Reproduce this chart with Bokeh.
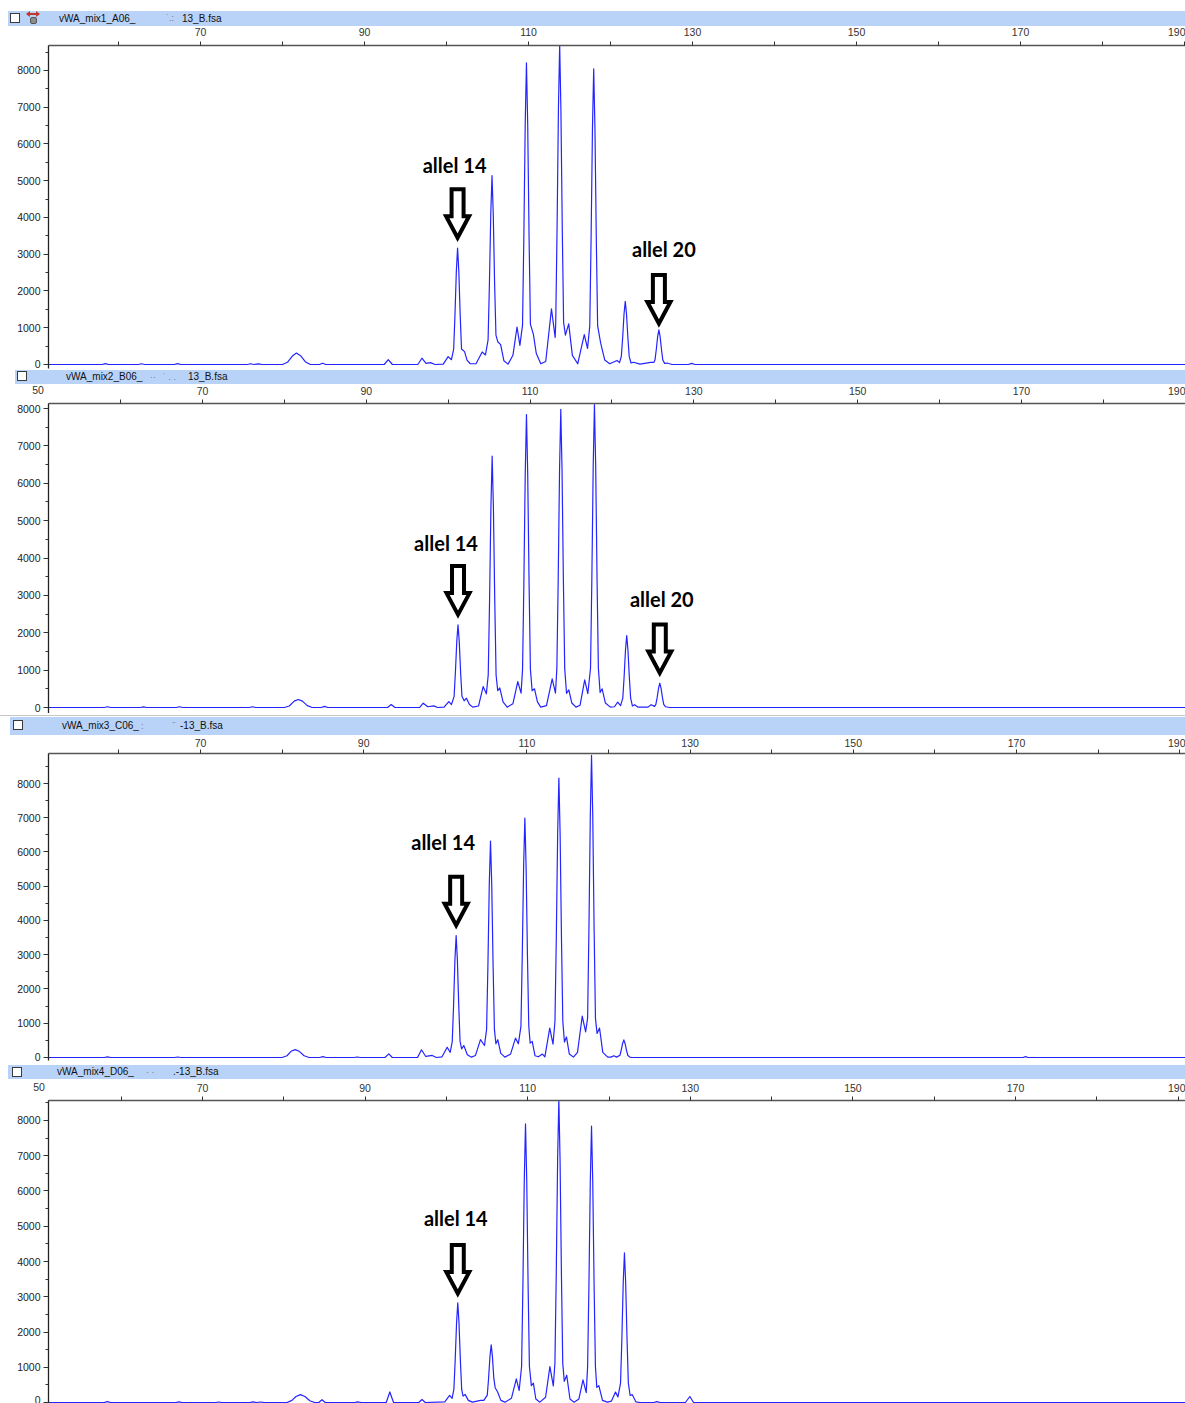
from bokeh.plotting import figure
from bokeh.layouts import column
from bokeh.models import Range1d, FixedTicker, Div
from bokeh.core.properties import value
from bokeh.embed import file_html
from bokeh.resources import INLINE

# ---------------- data (size in bp, signal in RFU) ----------------
trace1 = [(51.2,0),(58.0,0),(58.4,25),(58.8,0),(62.4,0),(62.8,20),(63.2,0),(66.8,0),(67.2,25),(67.6,0),
 (75.7,0),(76.1,20),(76.5,0),(77.1,15),(77.5,0),
 (80.0,0),(80.6,60),(81.2,230),(81.7,310),(82.2,240),(82.8,70),(83.4,0),
 (84.5,0),(84.9,35),(85.3,0),(92.4,0),(92.9,130),(93.4,0),
 (96.5,0),(97.0,170),(97.5,30),(98.05,50),(98.6,0),
 (99.6,10),(100.2,215),(100.6,130),(100.87,410),(101.03,1330),(101.2,2540),(101.35,3170),(101.5,2540),(101.67,1330),(101.83,420),(102.2,350),(102.5,120),(102.9,20),
 (103.6,20),(104.35,340),(104.75,260),(105.07,670),(105.23,2160),(105.4,4110),(105.55,5140),(105.7,4110),(105.87,2160),(106.03,800),(106.25,620),(106.6,540),(107.0,100),(107.5,10),
 (108.1,250),(108.6,1020),(108.95,520),(109.27,1070),(109.43,3450),(109.6,6570),(109.75,8210),(109.9,6570),(110.07,3450),(110.23,1100),(110.6,815),(110.95,300),(111.5,20),(112.1,80),
 (112.8,1515),(113.25,740),(113.32,1130),(113.48,3650),(113.65,6960),(113.8,8700),(113.95,6960),(114.12,3650),(114.28,1150),(114.5,800),(114.9,1105),(115.35,250),(116.0,20),
 (116.8,815),(117.2,435),(117.47,1050),(117.63,3380),(117.8,6440),(117.95,8045),(118.1,6440),(118.27,3380),(118.43,1050),(118.8,580),(119.3,120),(119.9,20),
 (120.8,110),(121.1,50),(121.32,220),(121.48,720),(121.65,1380),(121.8,1720),(121.95,1380),(122.12,720),(122.28,220),(122.5,40),(122.8,60),(123.6,10),
 (124.9,60),(125.3,60),(125.42,120),(125.58,400),(125.75,760),(125.9,945),(126.05,760),(126.22,400),(126.38,120),(126.6,30),(126.9,40),(127.5,0),
 (129.5,0),(129.9,30),(130.3,0),(190.2,0)]

trace2 = [(51.1,0),(58.0,0),(58.4,20),(58.8,0),(62.4,0),(62.8,15),(63.2,0),(66.8,0),(67.2,20),(67.6,0),
 (75.7,0),(76.1,20),(76.5,0),
 (80.0,0),(80.6,40),(81.2,170),(81.7,215),(82.2,170),(82.8,50),(83.4,0),
 (84.5,0),(84.9,30),(85.3,0),(92.6,0),(93.04,80),(93.5,0),
 (96.5,0),(96.95,115),(97.5,20),(98.24,45),(98.7,0),
 (99.5,10),(100.07,160),(100.4,80),(100.72,290),(100.88,930),(101.05,1770),(101.2,2210),(101.35,1770),(101.52,930),(101.68,300),(101.95,180),(102.23,250),(102.6,80),(103.0,10),
 (103.7,40),(104.27,560),(104.66,365),(104.89,870),(105.05,2820),(105.22,5380),(105.37,6725),(105.52,5380),(105.69,2820),(105.85,870),(106.05,450),(106.3,525),(106.7,150),(107.2,10),
 (107.9,100),(108.5,695),(108.9,385),(109.08,1020),(109.24,3290),(109.41,6270),(109.56,7840),(109.71,6270),(109.88,3290),(110.04,1020),(110.25,450),(110.54,500),(110.9,150),(111.3,10),
 (112.0,50),(112.7,765),(113.1,385),(113.27,1040),(113.43,3350),(113.6,6380),(113.75,7975),(113.9,6380),(114.07,3350),(114.23,1040),(114.45,380),(114.73,470),(115.1,120),(115.6,10),
 (116.1,60),(116.67,740),(117.05,370),(117.38,1050),(117.54,3400),(117.71,6480),(117.86,8105),(118.01,6480),(118.18,3400),(118.34,1050),(118.55,400),(118.8,500),(119.2,120),(119.8,10),
 (120.3,20),(120.7,145),(121.05,50),(121.32,250),(121.48,810),(121.65,1540),(121.8,1925),(121.95,1540),(122.12,810),(122.28,250),(122.5,40),(122.75,75),(123.2,10),
 (124.4,10),(124.78,75),(125.2,30),(125.36,85),(125.52,270),(125.69,520),(125.84,650),(125.99,520),(126.16,270),(126.32,85),(126.55,20),(127.05,0),
 (190.1,0)]

trace3 = [(51.3,0),(58.2,0),(58.6,20),(59.0,0),(66.8,0),(67.2,15),(67.6,0),
 (80.0,0),(80.6,50),(81.1,180),(81.6,230),(82.1,180),(82.7,50),(83.3,0),
 (84.6,0),(85.0,25),(85.4,0),(88.8,0),(89.2,15),(89.6,0),
 (92.6,0),(93.08,105),(93.5,0),
 (96.6,0),(97.08,225),(97.6,30),(98.4,60),(98.9,0),
 (99.6,20),(100.23,300),(100.6,150),(100.85,460),(101.01,1500),(101.18,2850),(101.33,3560),(101.48,2850),(101.65,1500),(101.81,470),(102.0,250),(102.27,350),(102.7,80),(103.2,10),
 (103.7,60),(104.31,520),(104.8,350),(105.06,820),(105.22,2650),(105.39,5060),(105.54,6320),(105.69,5060),(105.86,2650),(106.02,820),(106.2,400),(106.43,520),(106.8,120),(107.3,10),
 (108.0,100),(108.6,565),(108.95,400),(109.27,910),(109.43,2940),(109.6,5590),(109.75,6990),(109.9,5590),(110.07,2940),(110.23,910),(110.4,420),(110.65,470),(111.0,50),(111.4,20),(111.9,100),(112.2,20),
 (112.8,860),(113.2,390),(113.44,1060),(113.6,3430),(113.77,6530),(113.92,8160),(114.07,6530),(114.24,3430),(114.4,1060),(114.6,450),(114.85,600),(115.2,100),(115.7,10),
 (116.2,150),(116.78,1205),(117.2,750),(117.44,1150),(117.6,3700),(117.77,7060),(117.92,8820),(118.07,7060),(118.24,3700),(118.4,1150),(118.6,700),(118.9,860),(119.3,150),(119.9,10),
 (120.3,10),(120.65,50),(121.0,10),(121.4,65),(121.56,215),(121.73,410),(121.88,515),(122.03,410),(122.2,215),(122.36,65),(122.6,10),(122.9,0),
 (170.8,0),(171.1,25),(171.4,0),(190.8,0)]

trace4 = [(50.4,0),(57.9,0),(58.3,25),(58.7,0),(66.7,0),(67.1,20),(67.5,0),(71.6,0),(72.0,15),(72.4,0),
 (75.8,0),(76.2,20),(76.6,0),(77.2,15),(77.6,0),
 (80.4,0),(81.0,60),(81.5,170),(82.05,225),(82.6,170),(83.2,50),(83.8,0),
 (84.3,0),(84.7,80),(85.1,0),(88.7,0),(89.1,20),(89.5,0),
 (92.6,0),(93.04,300),(93.5,0),
 (96.6,0),(97.0,85),(97.4,0),
 (99.8,20),(100.4,200),(100.7,120),(100.92,370),(101.08,1190),(101.25,2260),(101.4,2830),(101.55,2260),(101.72,1190),(101.88,370),(102.05,180),(102.3,230),(102.7,60),(103.2,10),
 (104.2,60),(104.6,60),(105.03,210),(105.19,690),(105.36,1310),(105.51,1635),(105.66,1310),(105.83,690),(106.0,420),(106.3,300),(106.7,60),(107.2,10),
 (108.0,120),(108.6,670),(108.95,340),(109.25,1030),(109.41,3320),(109.58,6320),(109.73,7905),(109.88,6320),(110.05,3320),(110.21,1030),(110.45,480),(110.7,550),(111.0,100),(111.5,10),
 (112.2,150),(112.73,1020),(113.15,470),(113.35,1120),(113.51,3610),(113.68,6880),(113.83,8600),(113.98,6880),(114.15,3610),(114.31,1120),(114.5,600),(114.8,775),(115.2,100),(115.7,10),
 (116.3,100),(116.8,640),(117.2,280),(117.37,1020),(117.53,3290),(117.7,6270),(117.85,7840),(118.0,6270),(118.17,3290),(118.33,1020),(118.5,430),(118.75,480),(119.2,60),(119.8,10),
 (120.3,40),(120.8,295),(121.1,160),(121.42,550),(121.58,1780),(121.75,3400),(121.9,4245),(122.05,3400),(122.22,1780),(122.38,550),(122.6,200),(122.85,225),(123.3,20),(123.8,0),
 (125.5,0),(125.9,25),(126.3,0),
 (129.4,0),(129.94,170),(130.4,0),
 (190.9,0)]

# annotated allele peaks: (size bp, peak RFU, label)
alleles1 = [(101.35, 3170, "allel 14"), (125.9, 945, "allel 20")]
alleles2 = [(101.2, 2210, "allel 14"), (125.84, 650, "allel 20")]
alleles3 = [(101.33, 3560, "allel 14")]
alleles4 = [(101.4, 2830, "allel 14")]

sample_names = ["vWA_mix1_A06_", "vWA_mix2_B06_", "vWA_mix3_C06_", "vWA_mix4_D06_"]
file_suffix = ["13_B.fsa", "13_B.fsa", "-13_B.fsa", ".-13_B.fsa"]

x_ticks = [50, 70, 90, 110, 130, 150, 170, 190]
x_minor = [60, 80, 100, 120, 140, 160, 180]
y_ticks = [0, 1000, 2000, 3000, 4000, 5000, 6000, 7000, 8000]
y_minor = [500, 1500, 2500, 3500, 4500, 5500, 6500, 7500, 8500]

# ---------------- layout / style ----------------
W = 1185
LEFT = 48
TOP = 24
LABEL_FONT = "Liberation Sans"
TRACE_COLOR = "#2424FF"
BAR_COLOR = "#B9D3F8"

panels = [
    dict(trace=trace1, alleles=alleles1, x0=51.463, x1=190.12, y0=-109, y1=8680, frame_h=323, bottom=2,
         overlap=5, standoff=6, gaps=[6, 2], tdx=[-3, 5], tdy=[83, 81]),
    dict(trace=trace2, alleles=alleles2, x0=51.197, x1=190.03, y0=-160, y1=8134, frame_h=310, bottom=0,
         overlap=5, standoff=5, gaps=[6, 6], tdx=[-12, 2], tdy=[82, 84]),
    dict(trace=trace3, alleles=alleles3, x0=51.373, x1=190.71, y0=-88, y1=8876, frame_h=307, bottom=3,
         overlap=6, standoff=3, gaps=[6], tdx=[-13], tdy=[94]),
    dict(trace=trace4, alleles=alleles4, x0=51.058, x1=190.91, y0=-28, y1=8567, frame_h=303, bottom=0,
         overlap=3, standoff=5, gaps=[5], tdx=[-2], tdy=[85]),
]

headers = [
    dict(h=26, bar_x0=8, bar_top=11, cb=(10, 13), name_x=59, marks=[(166, "\u02d9.:")], suffix_x=182,
         icon=True, gray=None, fifty=None),
    dict(h=14, bar_x0=15, bar_top=0, cb=(17, 1), name_x=66, marks=[(150, "\u00b7\u00b7"), (163, "\u02d9 . .")],
         suffix_x=188, icon=False, gray=None, fifty=(38, 20)),
    dict(h=22, bar_x0=10, bar_top=4, cb=(13, 7), name_x=62, marks=[(141, ":"), (172, "\u02dd")], suffix_x=180,
         icon=False, gray=2, fifty=None),
    dict(h=16, bar_x0=8, bar_top=2, cb=(12, 4), name_x=57, marks=[(146, "\u00b7 \u00b7")], suffix_x=173,
         icon=False, gray=None, fifty=(39, 24)),
]


def make_header(i):
    hd = headers[i]
    h = hd["h"]
    bh = h - hd["bar_top"]
    parts = []
    if hd["gray"] is not None:
        parts.append(f'<div style="position:absolute;left:0;top:{hd["gray"]}px;width:{W}px;height:1px;background:#C6C6C6;"></div>')
    parts.append(f'<div style="position:absolute;left:{hd["bar_x0"]}px;top:{hd["bar_top"]}px;width:{W - hd["bar_x0"]}px;'
                 f'height:{bh}px;background:{BAR_COLOR};"></div>')
    cx, cy = hd["cb"]
    parts.append(f'<div style="position:absolute;left:{cx}px;top:{cy}px;width:10px;height:10px;'
                 f'border:1px solid #3A3A3A;background:#FFFFFF;"></div>')
    if hd["icon"]:
        parts.append('<div style="position:absolute;left:27px;top:13px;width:12px;height:2px;background:#C0392B;"></div>')
        parts.append('<div style="position:absolute;left:26px;top:11px;width:0;height:0;border-top:3px solid transparent;'
                     'border-bottom:3px solid transparent;border-right:4px solid #C0392B;"></div>')
        parts.append('<div style="position:absolute;left:36px;top:11px;width:0;height:0;border-top:3px solid transparent;'
                     'border-bottom:3px solid transparent;border-left:4px solid #C0392B;"></div>')
        parts.append('<div style="position:absolute;left:30px;top:17px;width:7px;height:7px;background:#8C8C8C;'
                     'border:1px solid #555;border-radius:2px;"></div>')
    txt = f'position:absolute;top:{hd["bar_top"]}px;height:{bh}px;line-height:{bh}px;white-space:nowrap;'
    parts.append(f'<span style="{txt}left:{hd["name_x"]}px;font-size:10px;color:#111;">{sample_names[i]}</span>')
    for mx, mt in hd["marks"]:
        parts.append(f'<span style="{txt}left:{mx}px;font-size:9px;color:#777;">{mt}</span>')
    parts.append(f'<span style="{txt}left:{hd["suffix_x"]}px;font-size:10px;color:#111;">{file_suffix[i]}</span>')
    if hd["fifty"] is not None:
        fx, fy = hd["fifty"]
        parts.append(f'<span style="position:absolute;left:{fx - 10}px;top:{fy - 6}px;width:20px;height:12px;'
                     f'line-height:12px;text-align:center;font-size:10.5px;color:#333;z-index:5;">50</span>')
    html = (f'<div style="position:relative;width:{W}px;height:{h}px;overflow:visible;'
            f'font-family:\'{LABEL_FONT}\', Arial, sans-serif;">' + "".join(parts) + "</div>")
    return Div(text=html, width=W, height=h, margin=0, styles={"overflow": "visible"})


def make_panel(i):
    pd_ = panels[i]
    height = TOP + pd_["frame_h"] + pd_["bottom"]
    p = figure(width=W, height=height, x_range=Range1d(pd_["x0"], pd_["x1"]),
               y_range=Range1d(pd_["y0"], pd_["y1"]), x_axis_location="above", y_axis_location="left",
               output_backend="svg", toolbar_location=None, title=None,
               min_border_left=LEFT, min_border_right=0, min_border_top=TOP, min_border_bottom=pd_["bottom"],
               outline_line_color=None, background_fill_color="white", border_fill_color=None,
               margin=(-pd_["overlap"], 0, 0, 0))
    p.grid.visible = False

    xa = p.xaxis[0]
    xa.ticker = FixedTicker(ticks=x_ticks, minor_ticks=x_minor)
    xa.major_tick_out = 4
    xa.major_tick_in = 0
    xa.minor_tick_out = 4
    xa.minor_tick_in = 0
    xa.major_label_standoff = pd_["standoff"]
    xa.axis_line_color = "#555555"
    xa.axis_line_width = 1.6
    xa.major_tick_line_color = "#333333"
    xa.minor_tick_line_color = "#333333"
    xa.major_label_text_font = LABEL_FONT
    xa.major_label_text_font_size = "10.5px"
    xa.major_label_text_color = "#333333"

    ya = p.yaxis[0]
    ya.ticker = FixedTicker(ticks=y_ticks, minor_ticks=y_minor)
    ya.major_tick_out = 5
    ya.major_tick_in = 0
    ya.minor_tick_out = 3
    ya.minor_tick_in = 0
    ya.major_label_standoff = 3
    ya.axis_line_color = "#222222"
    ya.axis_line_width = 1.3
    ya.major_tick_line_color = "#333333"
    ya.minor_tick_line_color = "#333333"
    ya.major_label_text_font = LABEL_FONT
    ya.major_label_text_font_size = "10.5px"
    ya.major_label_text_color = "#222222"

    bp = [t[0] for t in pd_["trace"]]
    rfu = [t[1] for t in pd_["trace"]]
    p.line(bp, rfu, line_color=TRACE_COLOR, line_width=1.2, line_join="round")

    # pixel scales of this panel (used to size the arrow markers in screen pixels)
    kx = (W - LEFT) / (pd_["x1"] - pd_["x0"])
    ky = pd_["frame_h"] / (pd_["y1"] - pd_["y0"])

    shape = [(0, 0), (11.5, 21.5), (6, 21.5), (6, 48.5), (-6, 48.5), (-6, 21.5), (-11.5, 21.5)]
    xs, ys, tx, ty, tt = [], [], [], [], []
    for j, (sz, h, lab) in enumerate(pd_["alleles"]):
        tip = h + (pd_["gaps"][j] + 4.3) / ky
        xs.append([sz + sx / kx for sx, sy in shape])
        ys.append([tip + sy / ky for sx, sy in shape])
        tx.append(sz + pd_["tdx"][j] / kx)
        ty.append(h + pd_["tdy"][j] / ky)
        tt.append(lab)
    p.patches(xs, ys, fill_color="white", line_color="black", line_width=4, line_join="miter")
    p.text(x=tx, y=ty, text=tt, text_font=value("Lato"), text_font_style="bold", text_font_size="20px",
           text_align="center", text_baseline="middle", text_color="black")
    return p


children = []
for i in range(4):
    children.append(make_header(i))
    children.append(make_panel(i))

layout = column(*children, spacing=0)

open("out.html", "w").write(file_html(layout, INLINE))
